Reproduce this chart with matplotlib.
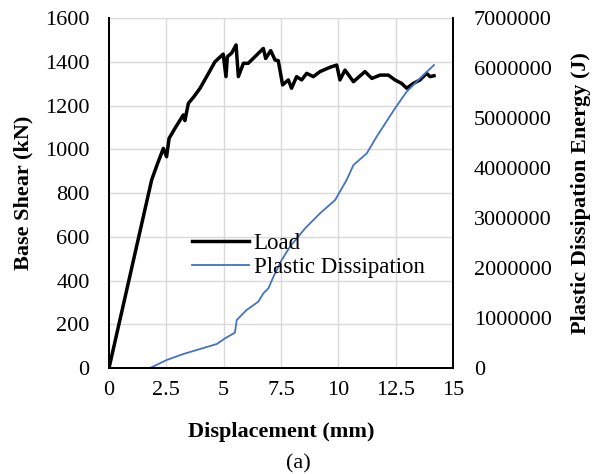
import matplotlib
matplotlib.use("Agg")
import matplotlib.pyplot as plt
from matplotlib.ticker import MultipleLocator, FuncFormatter

plt.rcParams['font.family'] = ['Liberation Serif', 'DejaVu Serif']

# load-displacement curve (mm, kN)
load_disp = [0, 1.86, 2.10, 2.37, 2.51, 2.62, 2.90, 3.24, 3.31, 3.46, 3.70, 3.97, 4.30,
             4.62, 4.98, 5.10, 5.16, 5.35, 5.54, 5.64, 5.86, 6.07, 6.44, 6.73, 6.83,
             7.05, 7.24, 7.38, 7.57, 7.82, 7.96, 8.18, 8.40, 8.62, 8.91, 9.20, 9.64,
             9.93, 10.07, 10.29, 10.66, 11.16, 11.46, 11.82, 12.18, 12.47, 12.76,
             12.98, 13.27, 13.56, 13.85, 14.00, 14.17]
load_kn = [0, 860, 930, 1004, 966, 1050, 1100, 1157, 1131, 1210, 1240, 1279, 1340,
           1400, 1435, 1332, 1423, 1440, 1477, 1332, 1393, 1393, 1431, 1461, 1415,
           1451, 1408, 1405, 1294, 1317, 1279, 1332, 1317, 1347, 1332, 1355, 1375,
           1385, 1317, 1362, 1309, 1355, 1324, 1339, 1339, 1317, 1301,
           1279, 1301, 1317, 1347, 1332, 1336]

# plastic dissipation energy (J)
pd_disp = [0, 1.79, 2.51, 3.24, 3.97, 4.70, 5.06, 5.49, 5.57, 6.00, 6.51, 6.73, 6.95,
           7.17, 7.53, 7.89, 8.55, 9.20, 9.86, 10.36, 10.66, 11.24, 11.67, 12.47,
           12.98, 13.56, 14.17]
pd_energy = [0, 0, 160000, 280000, 380000, 480000, 593000, 707000, 960000, 1160000,
             1327000, 1493000, 1593000, 1827000, 2160000, 2427000, 2793000, 3093000,
             3360000, 3760000, 4060000, 4293000, 4627000, 5193000, 5527000, 5793000,
             6060000]

fig = plt.figure(figsize=(5.97, 4.74), dpi=100)
ax = fig.add_axes([0.1826, 0.2236, 0.5762, 0.7384])
ax2 = ax.twinx()

l1, = ax.plot(load_disp, load_kn, color='black', lw=2.5, label='Load')
l2, = ax2.plot(pd_disp, pd_energy, color='#4472C4', lw=1.3, label='Plastic Dissipation')

ax.set_xlim(0, 15)
ax.set_ylim(0, 1600)
ax2.set_ylim(0, 7000000)
ax.xaxis.set_major_locator(MultipleLocator(2.5))
ax.yaxis.set_major_locator(MultipleLocator(200))
ax2.yaxis.set_major_locator(MultipleLocator(1000000))
ax.xaxis.set_major_formatter(FuncFormatter(lambda v, p: f"{v:g}"))
ax2.yaxis.set_major_formatter(FuncFormatter(lambda v, p: f"{int(v)}"))

ax.grid(True, color='#d9d9d9', lw=1)
ax.set_axisbelow(True)
for a in (ax, ax2):
    a.spines['top'].set_visible(False)
    for s in ('left', 'right', 'bottom'):
        a.spines[s].set_linewidth(1.4)
        a.spines[s].set_color('black')
    a.tick_params(length=0, labelsize=16)
ax.tick_params(axis='x', pad=9)
ax.tick_params(axis='y', pad=14)
ax2.tick_params(axis='y', pad=15)

ax.set_xlabel('Displacement (mm)', fontsize=16, fontweight='bold', labelpad=16)
ax.set_ylabel('Base Shear (kN)', fontsize=16, fontweight='bold', labelpad=8)
ax2.set_ylabel('Plastic Dissipation Energy (J)', fontsize=16, fontweight='bold', labelpad=14)

ax2.legend([l1, l2], ['Load', 'Plastic Dissipation'], frameon=False, fontsize=16.5,
           loc='upper left', bbox_to_anchor=(0.214, 0.411), handlelength=2.5,
           handletextpad=0.2, labelspacing=0.12, borderaxespad=0)

fig.text(0.5, 0.042, '(a)', ha='center', va='top', fontsize=16)

fig.savefig('out.png', dpi=100)
